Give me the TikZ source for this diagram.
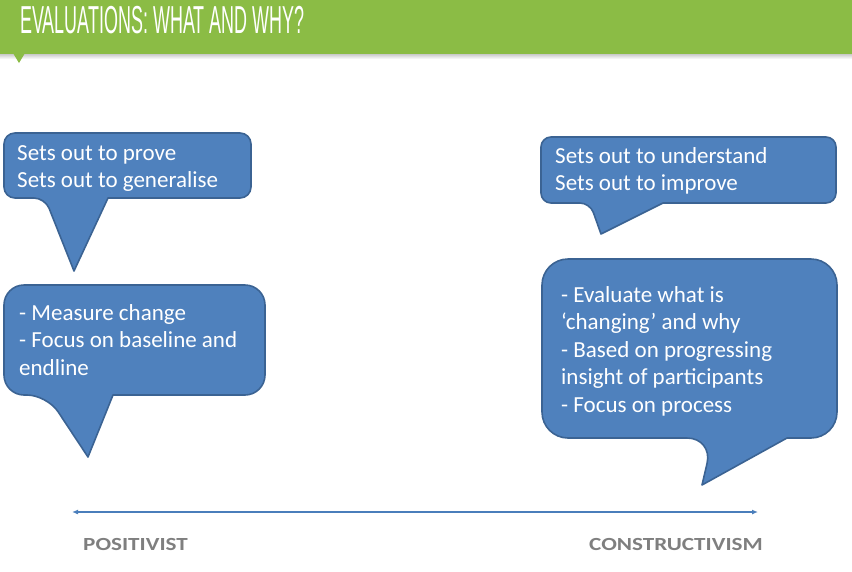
\documentclass[tikz,border=0pt]{standalone}
\usepackage{fontspec}
\setmainfont{Carlito}
\newfontfamily\titlefont[FakeStretch=0.46]{Liberation Sans}
\newfontfamily\labelfont[FakeStretch=1.25]{Carlito}
\usetikzlibrary{arrows.meta}
\definecolor{hdrgreen}{HTML}{8BBC45}
\definecolor{bubfill}{HTML}{4F81BD}
\definecolor{bubline}{HTML}{3B6393}
\definecolor{axisblue}{HTML}{4A7EBB}
\definecolor{lblgray}{HTML}{7F7F7F}
\tikzset{
  bubble/.style={fill=bubfill, draw=bubline, line width=1.6pt, line join=round},
  bubtext/.style={anchor=base west, inner sep=0pt, align=left, text=white,
    font=\fontsize{23}{27.6}\selectfont},
  axislabel/.style={anchor=base west, inner sep=0pt, text=lblgray,
    font=\labelfont\bfseries\fontsize{18.5}{21}\selectfont}
}
\begin{document}
\begin{tikzpicture}[x=1pt,y=-1pt]
\useasboundingbox (0,0) rectangle (852,571);
% header
\shade[top color=black!25, bottom color=white] (0,53) rectangle (852,59);
\fill[hdrgreen] (0,0) rectangle (852,54);
\fill[hdrgreen] (13,53) -- (25,53) -- (19,63) -- cycle;
\node[anchor=base west, inner sep=0pt, text=white, font=\titlefont\fontsize{39}{42}\selectfont] (title) at (20,33.5) {EVALUATIONS: WHAT AND WHY?};
% bubble 1
\draw[bubble, rounded corners=11pt] (120,133) -- (4,133) -- (4,198) -- (45,198) [sharp corners] -- (74,271) -- (108,198) [rounded corners=11pt] -- (251,198) -- (251,133) -- cycle;
\node[bubtext] (b1) at (17,187.6) {Sets out to prove\\Sets out to generalise};
% bubble 2
\draw[bubble, rounded corners=10pt] (680,137) -- (541,137) -- (541,203) -- (590,203) [sharp corners] -- (601,234) -- (663,203) [rounded corners=10pt] -- (836,203) -- (836,137) -- cycle;
\node[bubtext] (b2) at (555,190.6) {Sets out to understand\\Sets out to improve};
% bubble 3
\draw[bubble, rounded corners=20pt] (130,285) -- (4,285) -- (4,395) -- (47,395) [sharp corners] -- (88,457) -- (113,395) [rounded corners=20pt] -- (265,395) -- (265,285) -- cycle;
\node[bubtext] (b3) at (19,375.2) {- Measure change\\- Focus on baseline and\\endline};
% bubble 4
\draw[bubble, rounded corners=26pt] (690,259) -- (542,259) -- (542,438) -- (713,438) [sharp corners] -- (702,485) -- (787,438) [rounded corners=26pt] -- (837,438) -- (837,259) -- cycle;
\node[bubtext] (b4) at (561,412.4) {- Evaluate what is\\‘changing’ and why\\- Based on progressing\\insight of participants\\- Focus on process};
% axis
\coordinate (axl) at (72,512);
\coordinate (axr) at (758,512);
\draw[axisblue, line width=1.6pt, {Latex[length=6pt,width=5pt]}-{Latex[length=6pt,width=5pt]}] (axl) -- (axr);
\node[axislabel] (pos) at (83,550) {POSITIVIST};
\node[axislabel] (con) at (589,550) {CONSTRUCTIVISM};
\end{tikzpicture}
\end{document}
